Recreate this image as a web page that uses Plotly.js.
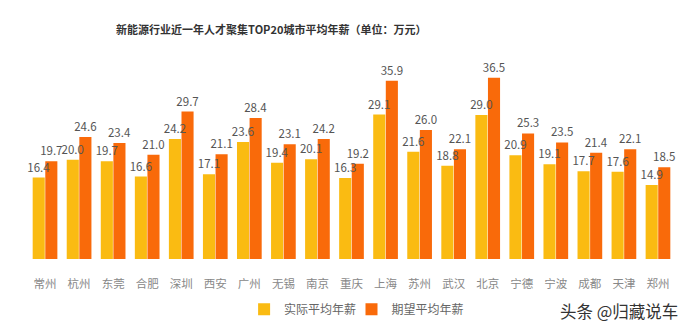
<!DOCTYPE html>
<html><head><meta charset="utf-8">
<script src="https://cdn.plot.ly/plotly-3.0.1.min.js"></script>
<style>html,body{margin:0;padding:0;background:#fff;}#c{width:692px;height:336px;}</style>
</head><body><div id="c"></div>
<script>
const cities = ["常州","杭州","东莞","合肥","深圳","西安","广州","无锡","南京","重庆","上海","苏州","武汉","北京","宁德","宁波","成都","天津","郑州"];
const actual = [16.4,20.0,19.7,16.6,24.2,17.1,23.6,19.4,20.1,16.3,29.1,21.6,18.8,29.0,20.9,19.1,17.7,17.6,14.9];
const expected = [19.7,24.6,23.4,21.0,29.7,21.1,28.4,23.1,24.2,19.2,35.9,26.0,22.1,36.5,25.3,23.5,21.4,22.1,18.5];
const F = '"Noto Sans CJK SC", "Noto Sans", sans-serif';
const bar = (name, y, color, grp, lg) => ({
  type:'bar', name, x:cities, y, marker:{color}, offsetgroup:grp, hoverinfo:'none', legend:lg
});
const lab = (y, grp) => ({
  type:'bar', x:cities, y, marker:{color:'rgba(0,0,0,0)'}, offsetgroup:grp, showlegend:false,
  text:y.map(v=>v.toFixed(1)), textposition:'outside', cliponaxis:false, constraintext:'none',
  textfont:{family:F, size:11.5, color:'#555'}, hoverinfo:'none'
});
const data = [
  bar('实际平均年薪', actual, '#FABB12', 'a', 'legend'),
  bar('期望平均年薪', expected, '#F96A0A', 'b', 'legend2'),
  lab(actual, 'a'),
  lab(expected, 'b')
];
const lg = (x) => ({orientation:'h', x, xanchor:'left', y:-0.18, yanchor:'top', bgcolor:'rgba(0,0,0,0)', font:{family:F, size:12, color:'#666'}, itemwidth:30});
const layout = {
  width:692, height:336, paper_bgcolor:'#fff', plot_bgcolor:'#fff',
  margin:{l:28, r:17, t:60, b:66},
  font:{family:F, color:'#555'},
  title:{text:'<b>新能源行业近一年人才聚集TOP20城市平均年薪（单位：万元）</b>', x:0.392, xanchor:'center', y:0.91, yanchor:'middle', font:{family:F, size:11, color:'#333'}},
  barmode:'group', bargap:0.26, bargroupgap:0.04,
  xaxis:{showline:false, ticks:'', ticklabelstandoff:16, tickfont:{family:F, size:11.5, color:'#888'}, showgrid:false, zeroline:false},
  yaxis:{range:[0,40.1], visible:false, showgrid:false, zeroline:false},
  showlegend:true,
  legend:lg(0.334),
  legend2:lg(0.5),
  annotations:[{text:'头条 @归藏说车', xref:'paper', yref:'paper', x:1.008, y:-0.19, xanchor:'right', yanchor:'top', showarrow:false, font:{family:F, size:16.5, color:'#333'}}]
};
Plotly.newPlot('c', data, layout, {displayModeBar:false, staticPlot:true});
</script></body></html>
